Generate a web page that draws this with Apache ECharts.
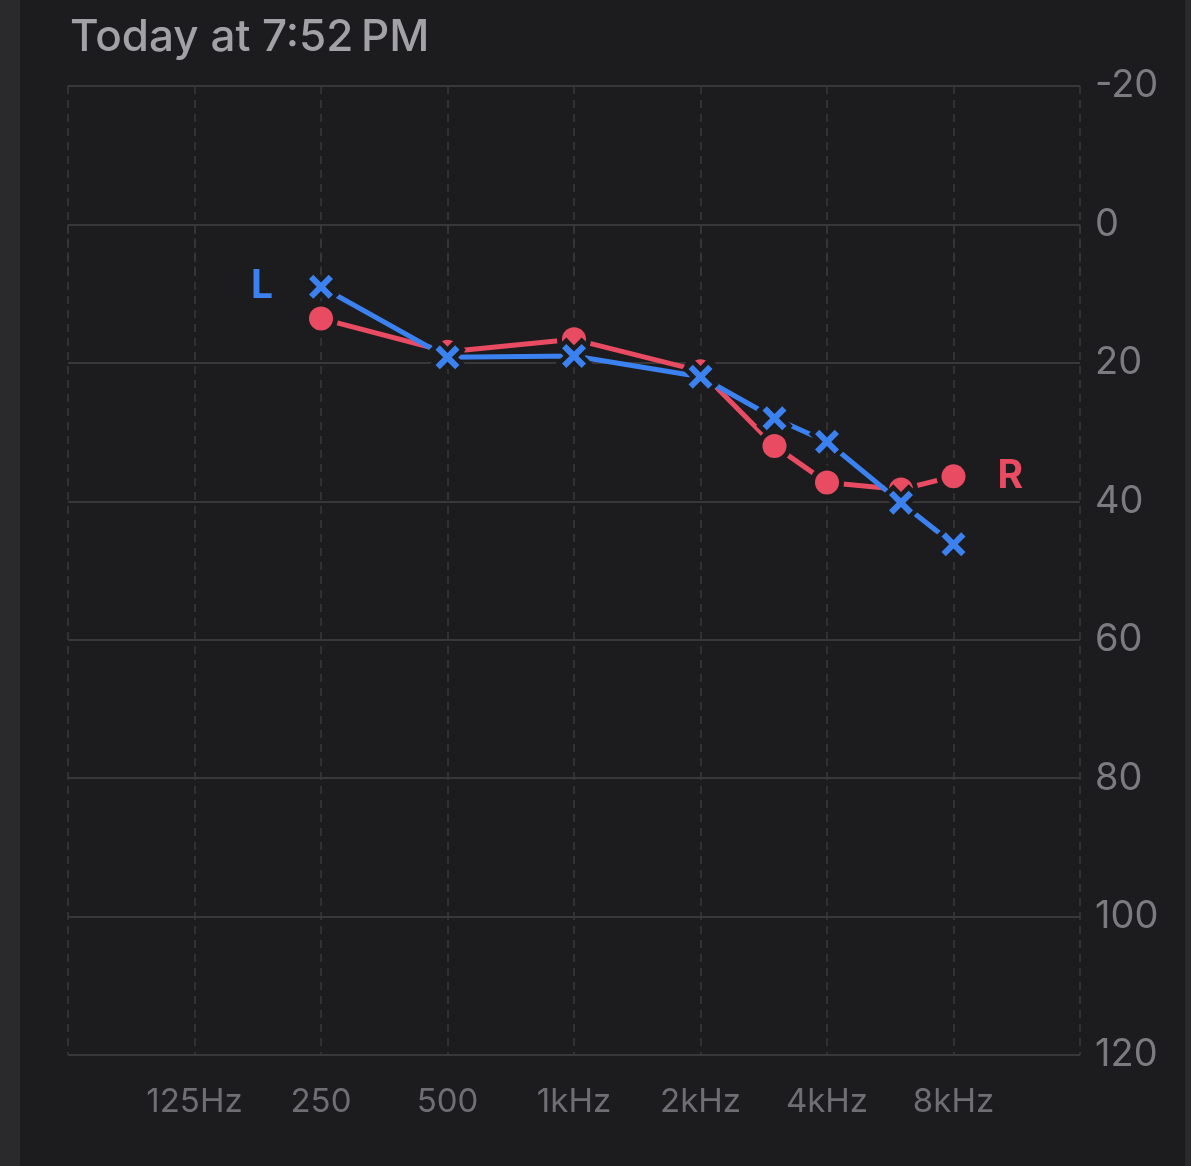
<!DOCTYPE html>
<html>
<head>
<meta charset="utf-8">
<script src="https://cdn.jsdelivr.net/npm/echarts@6/dist/echarts.min.js"></script>
<style>
html,body{margin:0;padding:0;background:#1c1c1e;}
#wrap{position:relative;width:1191px;height:1166px;background:#1c1c1e;}
#lstrip{position:absolute;left:0;top:0;width:20px;height:1166px;background:#2a2a2c;}
#rstrip{position:absolute;left:1185px;top:0;width:6px;height:1166px;background:#2a2a2c;}
#chart{position:absolute;left:20px;top:0;width:1165px;height:1166px;}
</style>
</head>
<body>
<div id="wrap"><div id="lstrip"></div><div id="rstrip"></div><div id="chart"></div></div>
<script>
// Data
const freqLabels = ['', '125Hz', '250', '500', '1kHz', '2kHz', '4kHz', '8kHz', ''];
const freqs = [250, 500, 1000, 2000, 3000, 4000, 6000, 8000];
const leftEar = [9, 19.2, 19, 22, 28, 31.4, 40.2, 46.2];
const rightEar = [13.6, 18.4, 16.6, 21.2, 32, 37.3, 38.3, 36.4];
const yTicks = [-20, 0, 20, 40, 60, 80, 100, 120];

const BG = '#1c1c1e';
const BLUE = '#3b82f0';
const RED = '#e94b62';
const GRID = '#38383a';
const FONT = 'Inter, "Noto Sans", sans-serif';
const xPath = 'path://M18 0 L50 32 L82 0 L100 18 L68 50 L100 82 L82 100 L50 68 L18 100 L0 82 L32 50 L0 18 Z';

const chart = echarts.init(document.getElementById('chart'), null, {renderer: 'canvas'});

function pts(vals) { return vals.map((v, i) => [freqs[i], v]); }

function labeled(vals, labelIdx, labelText, pos, color) {
  return vals.map((v, i) => {
    const item = {value: [freqs[i], v]};
    if (i === labelIdx) {
      item.label = {
        show: true, formatter: labelText, position: pos, distance: pos === 'left' ? 36 : 32,
        color: color, fontSize: 39, fontWeight: 'bold', fontFamily: FONT
      };
    }
    return item;
  });
}

function earSeries(name, vals, color, symbol, size, haloSize, haloBorder, zBase, labelIdx, pos) {
  return [
    {
      name: name, type: 'line', xAxisIndex: 1, z: zBase,
      data: pts(vals), showSymbol: false, symbol: 'none',
      lineStyle: {color: color, width: 5}
    },
    {
      name: name + '-halo', type: 'scatter', xAxisIndex: 1, z: zBase + 1,
      data: pts(vals), symbol: symbol, symbolSize: haloSize,
      itemStyle: {color: BG, borderColor: BG, borderWidth: haloBorder, opacity: 1}
    },
    {
      name: name + '-mark', type: 'scatter', xAxisIndex: 1, z: zBase + 2,
      data: labeled(vals, labelIdx, name, pos, color), symbol: symbol, symbolSize: size,
      itemStyle: {color: color, opacity: 1},
      label: {show: false}
    }
  ];
}

chart.setOption({
  backgroundColor: BG,
  animation: false,
  title: {
    text: 'Today at 7:52\u202fPM',
    left: 50, top: 16, padding: 0,
    textStyle: {color: '#a1a1a6', fontSize: 44, fontWeight: 500, fontFamily: FONT}
  },
  grid: {left: 48, right: 105, top: 86, bottom: 111, containLabel: false, outerBoundsMode: 'none'},
  xAxis: [
    {
      type: 'category', data: freqLabels, boundaryGap: false,
      axisLine: {show: false},
      axisTick: {show: true, length: 55, lineStyle: {color: GRID, width: 1.5, type: [8, 6]}},
      axisLabel: {color: '#6e6e73', fontSize: 33, fontFamily: FONT, margin: 31, interval: 0},
      splitLine: {show: true, lineStyle: {color: GRID, width: 1.5, type: [8, 6]}}
    },
    {
      type: 'log', logBase: 2, min: 62.5, max: 16000, show: false
    }
  ],
  yAxis: {
    type: 'value', inverse: true, min: yTicks[0], max: yTicks[yTicks.length - 1], interval: 20,
    position: 'right',
    axisLine: {show: false}, axisTick: {show: false},
    axisLabel: {color: '#7c7c80', fontSize: 38, fontFamily: FONT, margin: 15, padding: [7, 0, 0, 0]},
    splitLine: {show: true, lineStyle: {color: GRID, width: 2}}
  },
  series: [].concat(
    earSeries('R', rightEar, RED, 'circle', 24, 34, 0, 2, rightEar.length - 1, 'right'),
    earSeries('L', leftEar, BLUE, xPath, 24, 24, 9, 6, 0, 'left')
  )
});
</script>
</body>
</html>
